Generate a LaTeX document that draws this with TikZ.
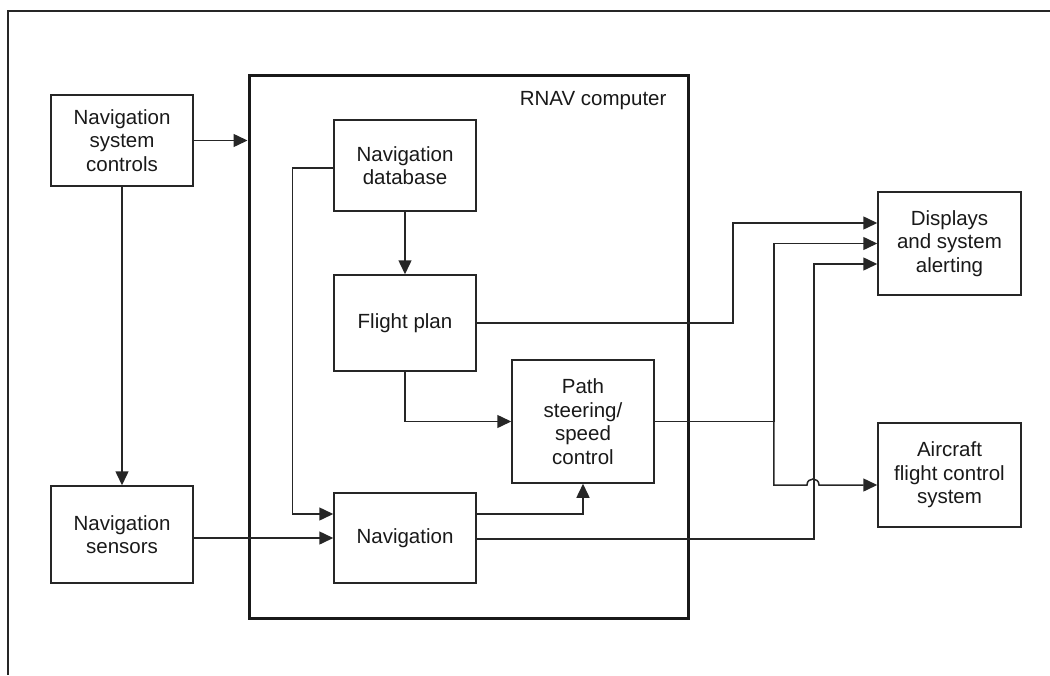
\documentclass[tikz,border=0pt]{standalone}
\usepackage{fontspec}
\setmainfont{Liberation Sans}
\usetikzlibrary{arrows.meta}
\begin{document}
\begin{tikzpicture}[x=1pt,y=-1pt,
  every node/.style={font=\fontsize{20.5}{23.5}\selectfont, text=black!90},
  box/.style={draw=black!85, line width=1.5pt, align=center, inner sep=0pt, minimum width=142pt},
  conn/.style={draw=black!85, line width=1.5pt},
  arr/.style={conn, -{Triangle[length=14pt,width=13pt]}}]
\useasboundingbox (0,0) rectangle (1050,675);
\coordinate (ftop) at (1050,11);
\coordinate (fcorner) at (8,11);
\coordinate (fbot) at (8,675);
\draw[conn] (ftop) -- (fcorner) -- (fbot);
% RNAV box
\node[draw=black!90, line width=3pt, minimum width=439pt, minimum height=543pt, inner sep=0pt] (rnav) at (468.5,346.5) {};
\node[anchor=east] (rlab) at (670,101) {RNAV computer};
% boxes
\node[box, minimum height=91pt] (nsc) at (122,140.5) {Navigation\\system\\controls};
\node[box, minimum height=97pt] (sens) at (122,534.5) {Navigation\\sensors};
\node[box, minimum height=91pt] (db) at (405,165.5) {Navigation\\database};
\node[box, minimum height=96pt] (fp) at (405,323) {Flight plan};
\node[box, minimum height=123pt] (path) at (583,421.5) {Path\\steering/\\speed\\control};
\node[box, minimum height=90pt] (navi) at (405,538) {Navigation};
\node[box, minimum width=143pt, minimum height=103pt] (disp) at (949.5,243.5) {Displays\\and system\\alerting};
\node[box, minimum width=143pt, minimum height=104pt] (acfc) at (949.5,475) {Aircraft\\flight control\\system};
% connectors
\draw[arr] (nsc.east) -- (nsc.east -| rnav.west);
\draw[arr] (nsc.south) -- (sens.north);
\draw[arr] (navi.west -| sens.east) -- (navi.west);
\draw[arr] ([yshift=-2.5pt]db.west) -- ++(-41,0) |- ([yshift=24pt]navi.west);
\draw[arr] (db.south) -- (fp.north);
\draw[arr] (fp.south) |- (path.west);
\draw[arr] ([yshift=24pt]navi.east) -| (path.south);
\draw[arr] (fp.east) -- ++(256,0) |- ([yshift=20.5pt]disp.west);
\draw[arr] (path.east) -- ++(119,0) coordinate (br) |- (disp.west);
\coordinate (hopa) at (807,485);
\coordinate (hopb) at (819,485);
\draw[arr] (br) |- (hopa) .. controls (807,477) and (819,477) .. (hopb) -- ([yshift=-10pt]acfc.west);
\draw[arr] ([yshift=-1pt]navi.east) -- ++(337,0) |- ([yshift=-20.5pt]disp.west);
\end{tikzpicture}
\end{document}
